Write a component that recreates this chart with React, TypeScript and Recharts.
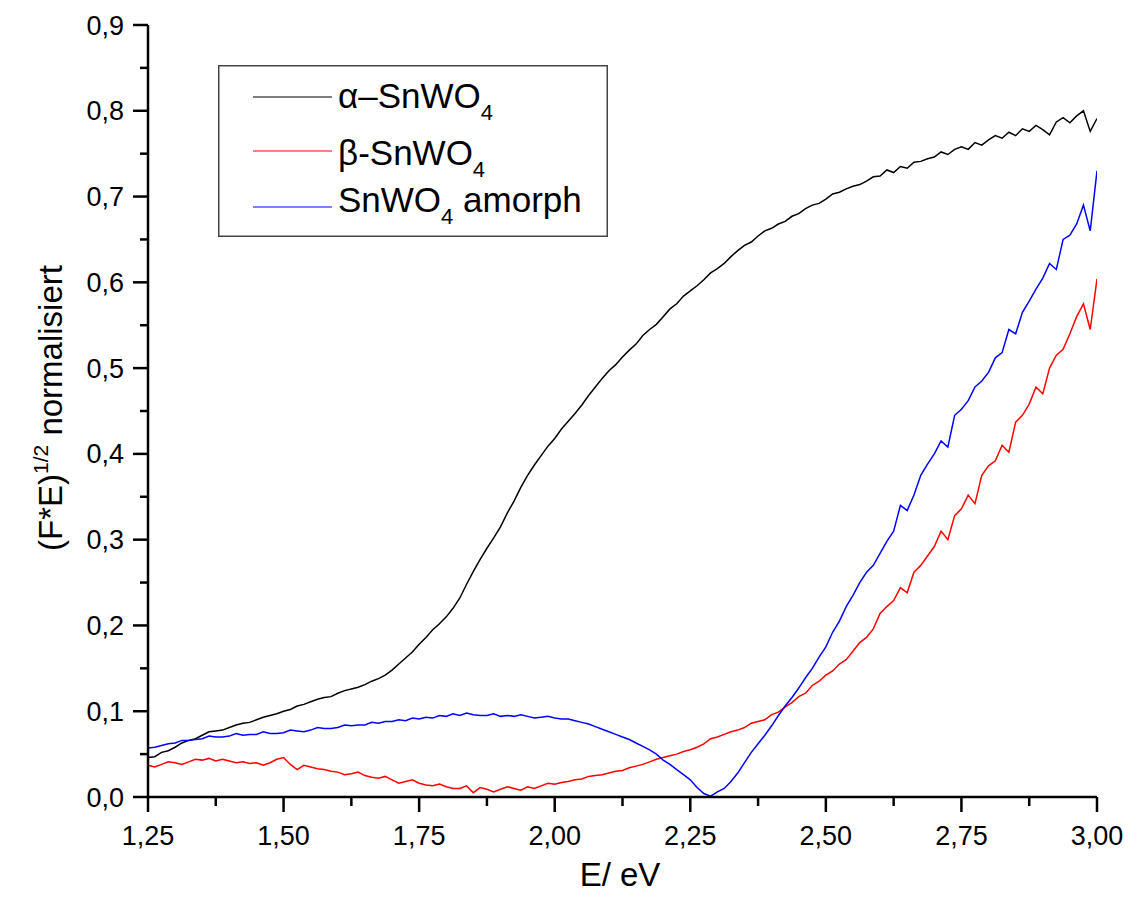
// Kubelka-Munk Auftragung für SnWO4-Proben
import { LineChart, Line, XAxis, YAxis, Legend, Label } from 'recharts';

const alpha = [
  0.046, 0.047, 0.052, 0.054, 0.058, 0.063, 0.066, 0.068, 0.072, 0.076,
  0.077, 0.078, 0.081, 0.084, 0.086, 0.087, 0.09, 0.093, 0.095, 0.097,
  0.1, 0.102, 0.106, 0.108, 0.111, 0.114, 0.116, 0.117, 0.121, 0.124,
  0.126, 0.128, 0.131, 0.135, 0.138, 0.142, 0.148, 0.155, 0.162, 0.169,
  0.178, 0.186, 0.195, 0.202, 0.21, 0.22, 0.232, 0.248, 0.263, 0.277,
  0.29, 0.302, 0.315, 0.331, 0.345, 0.361, 0.375, 0.387, 0.398, 0.409,
  0.418, 0.429, 0.438, 0.447, 0.457, 0.468, 0.478, 0.488, 0.497, 0.504,
  0.513, 0.521, 0.528, 0.538, 0.545, 0.551, 0.56, 0.569, 0.575, 0.584,
  0.59, 0.596, 0.603, 0.611, 0.616, 0.622, 0.63, 0.637, 0.643, 0.647,
  0.654, 0.66, 0.663, 0.668, 0.671, 0.677, 0.68, 0.686, 0.69, 0.692,
  0.697, 0.703, 0.705, 0.709, 0.712, 0.714, 0.718, 0.723, 0.724, 0.731,
  0.728, 0.735, 0.733, 0.74, 0.741, 0.744, 0.746, 0.752, 0.749, 0.755,
  0.758, 0.755, 0.763, 0.76, 0.766, 0.771, 0.768, 0.775, 0.771, 0.779,
  0.776, 0.783, 0.778, 0.772, 0.787, 0.792, 0.786, 0.794, 0.8, 0.776,
  0.791,
];

const beta = [
  0.037, 0.035, 0.038, 0.041, 0.04, 0.038, 0.041, 0.044, 0.043, 0.045,
  0.042, 0.044, 0.042, 0.04, 0.041, 0.039, 0.04, 0.037, 0.04, 0.044,
  0.046, 0.038, 0.032, 0.037, 0.035, 0.033, 0.032, 0.03, 0.029, 0.026,
  0.027, 0.029, 0.025, 0.023, 0.022, 0.024, 0.02, 0.016, 0.018, 0.02,
  0.016, 0.014, 0.013, 0.015, 0.012, 0.01, 0.01, 0.013, 0.005, 0.011,
  0.009, 0.006, 0.009, 0.012, 0.01, 0.008, 0.012, 0.01, 0.013, 0.016,
  0.015, 0.017, 0.018, 0.02, 0.021, 0.024, 0.025, 0.026, 0.028, 0.03,
  0.031, 0.034, 0.036, 0.038, 0.041, 0.044, 0.046, 0.048, 0.05, 0.053,
  0.055, 0.058, 0.062, 0.068, 0.07, 0.073, 0.076, 0.078, 0.081, 0.086,
  0.088, 0.09, 0.096, 0.099, 0.105, 0.11, 0.117, 0.121, 0.13, 0.135,
  0.142, 0.147, 0.155, 0.16, 0.17, 0.18, 0.186, 0.196, 0.214, 0.222,
  0.229, 0.244, 0.238, 0.262, 0.27, 0.281, 0.292, 0.31, 0.3, 0.328,
  0.336, 0.352, 0.342, 0.375, 0.386, 0.392, 0.41, 0.402, 0.437, 0.445,
  0.458, 0.478, 0.47, 0.5, 0.515, 0.522, 0.54, 0.56, 0.575, 0.545,
  0.604,
];

const amorph = [
  0.057, 0.058, 0.06, 0.062, 0.063, 0.066, 0.066, 0.067, 0.068, 0.071,
  0.07, 0.07, 0.071, 0.074, 0.072, 0.073, 0.073, 0.076, 0.074, 0.074,
  0.075, 0.078, 0.077, 0.076, 0.078, 0.081, 0.08, 0.08, 0.081, 0.084,
  0.083, 0.084, 0.084, 0.087, 0.086, 0.088, 0.088, 0.09, 0.089, 0.092,
  0.091, 0.093, 0.092, 0.095, 0.094, 0.097, 0.095, 0.098, 0.096, 0.095,
  0.095, 0.097, 0.094, 0.095, 0.094, 0.096, 0.094, 0.092, 0.093, 0.094,
  0.092, 0.091, 0.091, 0.089, 0.087, 0.085, 0.082, 0.079, 0.076, 0.073,
  0.07, 0.067, 0.063, 0.059, 0.055, 0.05, 0.043, 0.038, 0.032, 0.026,
  0.02, 0.011, 0.004, 0.001, 0.006, 0.01, 0.018, 0.028, 0.04, 0.052,
  0.062, 0.072, 0.083, 0.095, 0.106, 0.116, 0.127, 0.139, 0.15, 0.163,
  0.175, 0.192, 0.205, 0.222, 0.235, 0.25, 0.262, 0.27, 0.284, 0.298,
  0.31, 0.34, 0.334, 0.352, 0.375, 0.388, 0.4, 0.415, 0.408, 0.445,
  0.452, 0.462, 0.478, 0.485, 0.495, 0.512, 0.518, 0.545, 0.54, 0.565,
  0.578, 0.592, 0.605, 0.622, 0.615, 0.65, 0.655, 0.668, 0.69, 0.66,
  0.73,
];

const energy = alpha.map((_, i) => 1.25 + i * 0.0125);

const xTicks = [1.25, 1.375, 1.5, 1.625, 1.75, 1.875, 2.0, 2.125, 2.25, 2.375, 2.5, 2.625, 2.75, 2.875, 3.0];
const yTicks = [0, 0.05, 0.1, 0.15, 0.2, 0.25, 0.3, 0.35, 0.4, 0.45, 0.5, 0.55, 0.6, 0.65, 0.7, 0.75, 0.8, 0.85, 0.9];

const seriesNames = ['α–SnWO4', 'β-SnWO4', 'SnWO4 amorph'];
const seriesColors = ['#000000', '#ff0000', '#0000ff'];

const FONT = '"Liberation Sans", Arial, Helvetica, sans-serif';

const data = energy.map((e, i) => ({
  E: e,
  alpha: alpha[i],
  beta: beta[i],
  amorph: amorph[i],
}));

function XTick({ x, y, payload }: any) {
  const v = payload.value as number;
  const major = Math.abs((v - 1.25) / 0.25 - Math.round((v - 1.25) / 0.25)) < 1e-6;
  return (
    <g>
      <line x1={x} x2={x} y1={y} y2={y + (major ? 15 : 9)} stroke="#000" strokeWidth={2.5} />
      {major && (
        <text x={x} y={y + 48} textAnchor="middle" fontSize={27} fontFamily={FONT} fill="#000">
          {v.toFixed(2).replace('.', ',')}
        </text>
      )}
    </g>
  );
}

function YTick({ x, y, payload }: any) {
  const v = payload.value as number;
  const major = Math.round(v * 100) % 10 === 0;
  return (
    <g>
      <line x1={x - (major ? 15 : 8)} x2={x} y1={y} y2={y} stroke="#000" strokeWidth={2.5} />
      {major && (
        <text x={x - 24} y={y + 9.5} textAnchor="end" fontSize={27} fontFamily={FONT} fill="#000">
          {v.toFixed(1).replace('.', ',')}
        </text>
      )}
    </g>
  );
}

// "SnWO4" -> Index 4 tiefgestellt
function withSub(name: string, baseSize: number) {
  const idx = name.indexOf('O4');
  if (idx < 0) return name;
  const before = name.slice(0, idx + 1);
  const after = name.slice(idx + 2);
  return (
    <>
      <tspan>{before}</tspan>
      <tspan fontSize={baseSize * 0.63} dy={12}>4</tspan>
      <tspan dy={-12}>{after}</tspan>
    </>
  );
}

function LegendBox() {
  const rowsLineY = [32, 86, 142];
  const rowsTextY = [43, 100, 147];
  return (
    <svg width={390} height={172} style={{ display: 'block' }}>
      <rect x={0.75} y={0.75} width={388.5} height={170.5} fill="#fff" stroke="#444" strokeWidth={1.5} />
      {seriesNames.map((name, i) => (
        <g key={name}>
          <line x1={35} x2={114} y1={rowsLineY[i]} y2={rowsLineY[i]} stroke={seriesColors[i]} strokeWidth={1.2} />
          <text x={120} y={rowsTextY[i]} fontSize={35} fontFamily={FONT} fill="#000">
            {withSub(name, 35)}
          </text>
        </g>
      ))}
    </svg>
  );
}

export default function App() {
  return (
    <div style={{ position: 'absolute', left: 0, top: 0, width: 1133, height: 904, background: '#fff' }}>
      <LineChart width={1133} height={904} data={data} margin={{ top: 25, right: 36, bottom: 0, left: 0 }}>
        <XAxis
          dataKey="E"
          type="number"
          domain={[1.25, 3]}
          ticks={xTicks}
          interval={0}
          tick={<XTick />}
          tickLine={false}
          tickSize={0}
          tickMargin={0}
          height={107}
          axisLine={{ stroke: '#000', strokeWidth: 2.5 }}
          allowDataOverflow
        >
          <Label
            content={() => (
              <text x={620} y={886} textAnchor="middle" fontSize={33} fontFamily={FONT} fill="#000">
                E/ eV
              </text>
            )}
          />
        </XAxis>
        <YAxis
          type="number"
          domain={[0, 0.9]}
          ticks={yTicks}
          interval={0}
          tick={<YTick />}
          tickLine={false}
          tickSize={0}
          tickMargin={0}
          width={148}
          axisLine={{ stroke: '#000', strokeWidth: 2.5 }}
          allowDataOverflow
        >
          <Label
            content={() => (
              <text transform="translate(62,408) rotate(-90)" textAnchor="middle" fontSize={33} fontFamily={FONT} fill="#000">
                <tspan>(F*E)</tspan>
                <tspan fontSize={21} dy={-14}>1/2</tspan>
                <tspan dy={14}> normalisiert</tspan>
              </text>
            )}
          />
        </YAxis>
        <Legend
          layout="horizontal"
          verticalAlign="middle"
          align="center"
          content={() => <LegendBox />}
          wrapperStyle={{ position: 'absolute', left: 218, top: 65, width: 390, height: 172 }}
        />
        <Line dataKey="alpha" name={seriesNames[0]} stroke={seriesColors[0]} strokeWidth={1.5} dot={false} type="linear" isAnimationActive={false} />
        <Line dataKey="beta" name={seriesNames[1]} stroke={seriesColors[1]} strokeWidth={1.5} dot={false} type="linear" isAnimationActive={false} />
        <Line dataKey="amorph" name={seriesNames[2]} stroke={seriesColors[2]} strokeWidth={1.5} dot={false} type="linear" isAnimationActive={false} />
      </LineChart>
    </div>
  );
}
